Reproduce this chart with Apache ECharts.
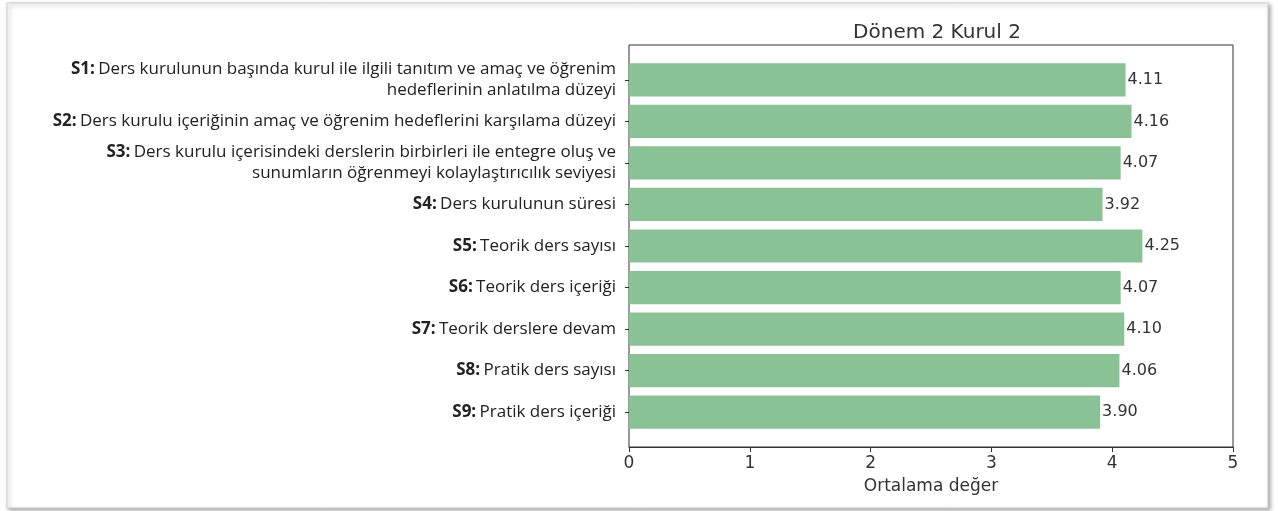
<!DOCTYPE html>
<html>
<head>
<meta charset="utf-8">
<script src="https://cdn.jsdelivr.net/npm/echarts@6/dist/echarts.min.js"></script>
<style>
  html, body { margin: 0; padding: 0; background: #fff; }
  #chart { width: 1278px; height: 511px; }
</style>
</head>
<body>
<div id="chart"></div>
<script>
// soru kodları ve metinleri
const codes = ['S1', 'S2', 'S3', 'S4', 'S5', 'S6', 'S7', 'S8', 'S9']
const texts = [
  'Ders kurulunun başında kurul ile ilgili tanıtım ve amaç ve öğrenim\nhedeflerinin anlatılma düzeyi',
  'Ders kurulu içeriğinin amaç ve öğrenim hedeflerini karşılama düzeyi',
  'Ders kurulu içerisindeki derslerin birbirleri ile entegre oluş ve\nsunumların öğrenmeyi kolaylaştırıcılık seviyesi',
  'Ders kurulunun süresi',
  'Teorik ders sayısı',
  'Teorik ders içeriği',
  'Teorik derslere devam',
  'Pratik ders sayısı',
  'Pratik ders içeriği'
]
const values = [4.11, 4.16, 4.07, 3.92, 4.25, 4.07, 4.10, 4.06, 3.90]
const xTicks = [0, 1, 2, 3, 4, 5]

const chart = echarts.init(document.getElementById('chart'))

// etiket: kalın kod + normal metin, satır satır
const labelText = (i) => {
  const lines = texts[i].split('\n')
  return lines.map((l, k) => (k === 0 ? '{b|' + codes[i] + ':} ' : '') + '{t|' + l + '}').join('\n')
}

// matplotlib gibi kenar boşluğu: çizim alanı -0.84 .. 8.84 aralığında
const plotTop = 45, plotH = 402
const unit = plotH / (codes.length - 1 + 0.8 + 0.88)
const barTop = plotTop + 0.34 * unit

const option = {
  backgroundColor: '#fff',
  animation: false,
  graphic: [{
    type: 'rect',
    z: -10,
    shape: { x: 7, y: 3, width: 1261, height: 505 },
    style: {
      fill: '#fff', stroke: '#cfcfcf', lineWidth: 1,
      shadowBlur: 4, shadowOffsetX: 2, shadowOffsetY: 2, shadowColor: 'rgba(0,0,0,0.35)'
    }
  }],
  title: {
    text: 'Dönem 2 Kurul 2',
    left: 932, top: 18, textAlign: 'center',
    textStyle: { fontFamily: 'DejaVu Sans', fontSize: 20, fontWeight: 'normal', color: '#333' }
  },
  grid: [
    { left: 629, top: plotTop, width: 604, height: plotH, show: true, borderColor: '#333', borderWidth: 1, backgroundColor: 'transparent' },
    { left: 629, top: barTop, width: 604, height: unit * codes.length }
  ],
  xAxis: [
    {
      gridIndex: 0, type: 'value', min: xTicks[0], max: xTicks[xTicks.length - 1], interval: 1,
      name: 'Ortalama değer', nameLocation: 'middle', nameGap: 31,
      nameTextStyle: { fontFamily: 'DejaVu Sans', fontSize: 17, color: '#333' },
      axisLine: { show: true, lineStyle: { color: '#333' } },
      axisTick: { show: true, length: 5, lineStyle: { color: '#333' } },
      axisLabel: { fontFamily: 'DejaVu Sans', fontSize: 17, color: '#333', margin: 8 },
      splitLine: { show: false }
    },
    { gridIndex: 1, type: 'value', min: 0, max: 5, show: false }
  ],
  yAxis: [
    { gridIndex: 0, type: 'value', show: false, min: 0, max: 1 },
    {
      gridIndex: 1, type: 'category', inverse: true, data: codes,
      axisLine: { show: false },
      axisTick: { show: true, alignWithLabel: true, length: 4, lineStyle: { color: '#333' } },
      axisLabel: {
        margin: 13, align: 'right', lineHeight: 21,
        formatter: (v, i) => labelText(i),
        rich: {
          b: { fontFamily: 'Open Sans', fontSize: 17, fontWeight: 'bold', color: '#222', lineHeight: 21 },
          t: { fontFamily: 'Open Sans', fontSize: 17, color: '#222', lineHeight: 21 }
        }
      }
    }
  ],
  series: [{
    type: 'bar',
    xAxisIndex: 1, yAxisIndex: 1,
    data: values,
    barWidth: unit * 0.8,
    itemStyle: { color: '#89c295' },
    label: {
      show: true, position: 'right', distance: 2,
      fontFamily: 'DejaVu Sans', fontSize: 16, color: '#333',
      formatter: (p) => p.value.toFixed(2)
    }
  }]
}

chart.setOption(option)
</script>
</body>
</html>
